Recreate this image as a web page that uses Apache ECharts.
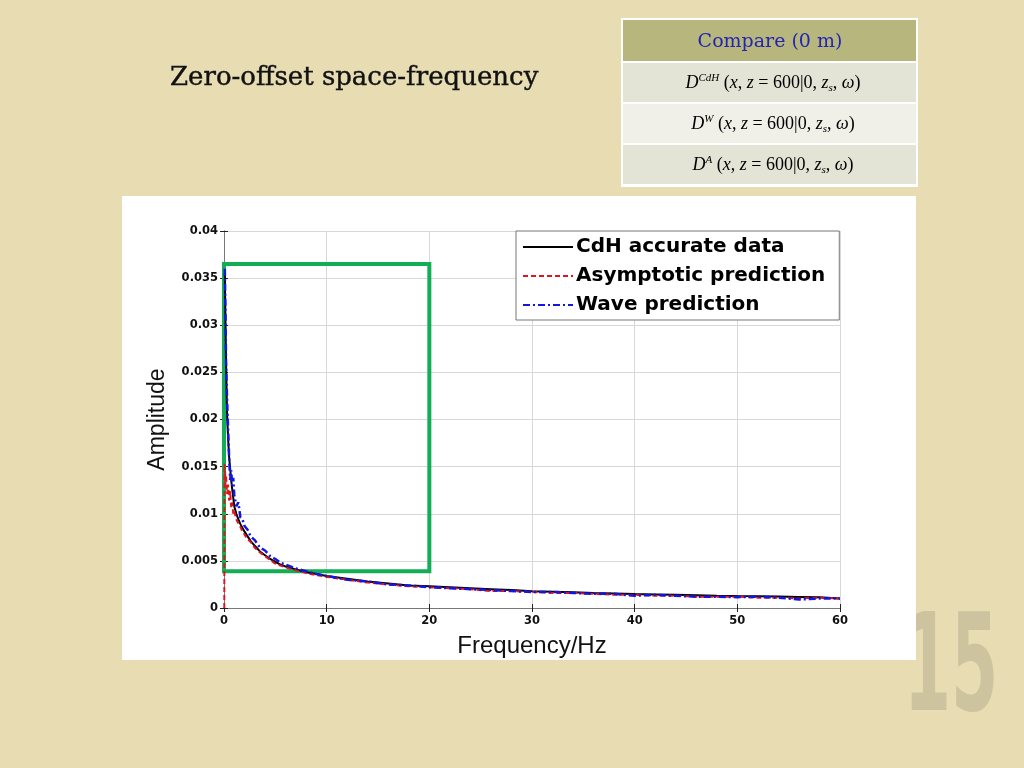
<!DOCTYPE html>
<html>
<head>
<meta charset="utf-8">
<script src="https://cdn.jsdelivr.net/npm/echarts@6/dist/echarts.min.js"></script>
<style>
html,body{margin:0;padding:0;background:#e7dcb2;}
#chart{width:1024px;height:768px;}
</style>
</head>
<body>
<div id="chart"></div>
<script>
// ---------- data ----------
const xTicks = [0, 10, 20, 30, 40, 50, 60];
const yTicks = [0, 0.005, 0.01, 0.015, 0.02, 0.025, 0.03, 0.035, 0.04];

const cdhFreq = [0.08, 0.1, 0.15, 0.2, 0.3, 0.4, 0.5, 0.6, 0.7, 0.8, 0.9, 1.0, 1.2, 1.4, 1.6, 1.8, 2.0, 2.3, 2.6, 3.0, 3.5, 4, 4.5, 5, 5.5, 6, 7, 8, 9, 10, 12, 14, 16, 18, 20, 22, 24, 26, 28, 30, 32, 34, 36, 38, 40, 42, 44, 46, 48, 50, 52, 54, 56, 58, 60];
const cdhAmp  = [0.0355, 0.0335, 0.030, 0.026, 0.0205, 0.018, 0.016, 0.0148, 0.0136, 0.0126, 0.0117, 0.0108, 0.0100, 0.0094, 0.0089, 0.0085, 0.0081, 0.0076, 0.0071, 0.0066, 0.0060, 0.0056, 0.0052, 0.0049, 0.0046, 0.0044, 0.0041, 0.0038, 0.0036, 0.0034, 0.0031, 0.0028, 0.0026, 0.0024, 0.0023, 0.0022, 0.0021, 0.0020, 0.0019, 0.00178, 0.00172, 0.00166, 0.0016, 0.00155, 0.00148, 0.00144, 0.0014, 0.00136, 0.00131, 0.00127, 0.00124, 0.00121, 0.00118, 0.00115, 0.0010];

const asymFreq = [0.03, 0.05, 0.1, 0.15, 0.2, 0.3, 0.4, 0.5, 0.6, 0.7, 0.8, 0.9, 1.0, 1.2, 1.4, 1.6, 1.8, 2.0, 2.3, 2.6, 3.0, 3.5, 4, 4.5, 5, 5.5, 6, 7, 8, 9, 10, 12, 14, 16, 18, 20, 22, 24, 26, 28, 30, 32, 34, 36, 38, 40, 42, 44, 46, 48, 50, 52, 54, 56, 58, 60];
const asymAmp  = [0, 0.0153, 0.0146, 0.0131, 0.0141, 0.0121, 0.0131, 0.0114, 0.0124, 0.0107, 0.0112, 0.0100, 0.0103, 0.0094, 0.0090, 0.0086, 0.0081, 0.0078, 0.0073, 0.0070, 0.0064, 0.0059, 0.0055, 0.0051, 0.0047, 0.0045, 0.0043, 0.0040, 0.0037, 0.0035, 0.0033, 0.0030, 0.0027, 0.0025, 0.0023, 0.0022, 0.0021, 0.0020, 0.0018, 0.0018, 0.0017, 0.0016, 0.0016, 0.0015, 0.0014, 0.0014, 0.0013, 0.0013, 0.0012, 0.0012, 0.0012, 0.0011, 0.0011, 0.0010, 0.0011, 0.0010];

const waveFreq = [0.08, 0.1, 0.15, 0.2, 0.3, 0.4, 0.5, 0.6, 0.7, 0.8, 0.9, 1.0, 1.2, 1.4, 1.6, 1.8, 2.0, 2.3, 2.6, 3.0, 3.5, 4, 4.5, 5, 5.5, 6, 7, 8, 9, 10, 12, 14, 16, 18, 20, 22, 24, 26, 28, 30, 32, 34, 36, 38, 40, 42, 44, 46, 48, 50, 52, 54, 56, 58, 60];
const waveAmp  = [0.0360, 0.0345, 0.0310, 0.0262, 0.0222, 0.0190, 0.0160, 0.0136, 0.0146, 0.0130, 0.0138, 0.0120, 0.0108, 0.0112, 0.0096, 0.0094, 0.0087, 0.0083, 0.0076, 0.0072, 0.0064, 0.0061, 0.0055, 0.0052, 0.0048, 0.0046, 0.0042, 0.0039, 0.0036, 0.0034, 0.0030, 0.0028, 0.0025, 0.0024, 0.0022, 0.0021, 0.0020, 0.0019, 0.0018, 0.0017, 0.0017, 0.0016, 0.0015, 0.0015, 0.0013, 0.0014, 0.0013, 0.0012, 0.0012, 0.00115, 0.0012, 0.0011, 0.0009, 0.0010, 0.0010];

const legendNames = ['CdH accurate data', 'Asymptotic prediction', 'Wave prediction'];
const focusBox = [[0, 0.0039], [20, 0.0365]];

const slideTitle = 'Zero-offset space-frequency';
const tableHeader = 'Compare (0 m)';
const tableSupers = ['CdH', 'W', 'A'];
const pageNumber = '15';

// ---------- build ----------
const pair = (xs, ys) => xs.map((x, i) => [x, ys[i]]);

const formulaRich = {
  i: {fontFamily: 'Liberation Serif', fontStyle: 'italic', fontSize: 18, color: '#111'},
  n: {fontFamily: 'Liberation Serif', fontSize: 18, color: '#111'},
  sup: {fontFamily: 'Liberation Serif', fontStyle: 'italic', fontSize: 11, color: '#111', verticalAlign: 'top', padding: [0, 0, 10, 0]},
  sub: {fontFamily: 'Liberation Serif', fontStyle: 'italic', fontSize: 11, color: '#111', verticalAlign: 'bottom', padding: [6, 0, 0, 0]}
};
function formula(sup) {
  return '{i|D}{sup|' + sup + '}{n| (}{i|x}{n|, }{i|z}{n| = 600|0, }{i|z}{sub|s}{n|, }{i|ω}{n|)}';
}
const rowY = [63, 104, 145];
const rowColors = ['#e3e4d5', '#f0f0e8', '#e3e4d5'];

const graphics = [
  {type: 'text', x: 951, y: 675, scaleX: 0.5, z: -10, silent: true,
   style: {text: pageNumber, align: 'center', verticalAlign: 'middle', fontFamily: 'DejaVu Sans', fontWeight: 'bold', fontSize: 136, fill: '#cdc39e'}},
  {type: 'rect', shape: {x: 122, y: 196, width: 794, height: 464}, z: -5, silent: true, style: {fill: '#ffffff'}},
  {type: 'text', x: 170, y: 78, silent: true,
   style: {text: slideTitle, verticalAlign: 'middle', fontFamily: 'DejaVu Serif', fontWeight: 'normal', fontSize: 26, fill: '#111', stroke: '#111', lineWidth: 0.4}},
  {type: 'rect', shape: {x: 621, y: 18, width: 297, height: 169}, z: -4, silent: true, style: {fill: '#ffffff'}},
  {type: 'rect', shape: {x: 623, y: 20, width: 293, height: 41}, z: -3, silent: true, style: {fill: '#b7b67c'}},
  {type: 'text', x: 770, y: 42, silent: true,
   style: {text: tableHeader, align: 'center', verticalAlign: 'middle', fontFamily: 'DejaVu Serif', fontSize: 19, fill: '#2424b4'}}
];
tableSupers.forEach((s, k) => {
  graphics.push({type: 'rect', shape: {x: 623, y: rowY[k], width: 293, height: 39}, z: -3, silent: true, style: {fill: rowColors[k]}});
  graphics.push({type: 'text', x: 773, y: rowY[k] + 20, silent: true,
    style: {text: formula(s), align: 'center', verticalAlign: 'middle', rich: formulaRich}});
});

const axisLabelStyle = {fontFamily: 'DejaVu Sans', fontWeight: 'bold', fontSize: 11.5, color: '#111'};

const option = {
  backgroundColor: '#e7dcb2',
  animation: false,
  graphic: graphics,
  grid: {left: 224, right: 184, top: 231, bottom: 160, containLabel: false},
  legend: {
    data: legendNames,
    orient: 'vertical', left: 516, top: 231,
    backgroundColor: '#ffffff', borderColor: '#777', borderWidth: 1,
    padding: [6, 14, 5, 6], itemGap: 9, itemWidth: 50, itemHeight: 18,
    itemStyle: {opacity: 0},
    textStyle: {fontFamily: 'DejaVu Sans', fontWeight: 'bold', fontSize: 20, color: '#000', padding: [0, 0, 0, -2]}
  },
  xAxis: [{
    type: 'value', min: 0, max: 60, interval: 10,
    name: 'Frequency/Hz', nameLocation: 'middle', nameGap: 26,
    nameTextStyle: {fontFamily: 'Liberation Sans', fontSize: 24, color: '#111'},
    axisLine: {show: true, lineStyle: {color: '#777', width: 1}},
    axisTick: {show: true, inside: true, length: 4, lineStyle: {color: '#222'}},
    axisLabel: Object.assign({margin: 7, formatter: v => xTicks.includes(v) ? String(v) : ''}, axisLabelStyle),
    splitLine: {show: true, lineStyle: {color: '#d8d8d8', width: 1}}
  }, {
    type: 'value', min: 0, max: 60, interval: 10, position: 'top',
    axisLine: {show: true, lineStyle: {color: '#777', width: 1}},
    axisTick: {show: true, inside: true, length: 4, lineStyle: {color: '#222'}},
    axisLabel: {show: false}, splitLine: {show: false}
  }],
  yAxis: [{
    type: 'value', min: 0, max: 0.04, interval: 0.005,
    name: 'Amplitude', nameLocation: 'middle', nameGap: 55,
    nameTextStyle: {fontFamily: 'Liberation Sans', fontSize: 23, color: '#111'},
    axisLine: {show: true, lineStyle: {color: '#777', width: 1}},
    axisTick: {show: true, inside: true, length: 4, lineStyle: {color: '#222'}},
    axisLabel: Object.assign({margin: 6, formatter: v => String(yTicks.find(t => Math.abs(t - v) < 1e-9) ?? '')}, axisLabelStyle),
    splitLine: {show: true, lineStyle: {color: '#d8d8d8', width: 1}}
  }, {
    type: 'value', min: 0, max: 0.04, interval: 0.005, position: 'right',
    axisLine: {show: true, lineStyle: {color: '#777', width: 1}},
    axisTick: {show: true, inside: true, length: 4, lineStyle: {color: '#222'}},
    axisLabel: {show: false}, splitLine: {show: false}
  }],
  series: [
    {name: legendNames[0], type: 'line', data: pair(cdhFreq, cdhAmp), symbol: 'none', z: 3,
     lineStyle: {color: '#000', width: 2}, itemStyle: {color: '#000'},
     markArea: {silent: true, itemStyle: {color: 'rgba(0,0,0,0)', borderColor: '#12ad55', borderWidth: 4},
       data: [[{coord: focusBox[0]}, {coord: focusBox[1]}]]}},
    {name: legendNames[1], type: 'line', data: pair(asymFreq, asymAmp), symbol: 'none', z: 4,
     lineStyle: {color: '#e0141e', width: 2, type: [5, 3]}, itemStyle: {color: '#e0141e'}},
    {name: legendNames[2], type: 'line', data: pair(waveFreq, waveAmp), symbol: 'none', z: 5,
     lineStyle: {color: '#1515e0', width: 2.5, type: [7, 3, 2, 3]}, itemStyle: {color: '#1515e0'}}
  ]
};

const chart = echarts.init(document.getElementById('chart'), null, {renderer: 'canvas'});
chart.setOption(option);
</script>
</body>
</html>
